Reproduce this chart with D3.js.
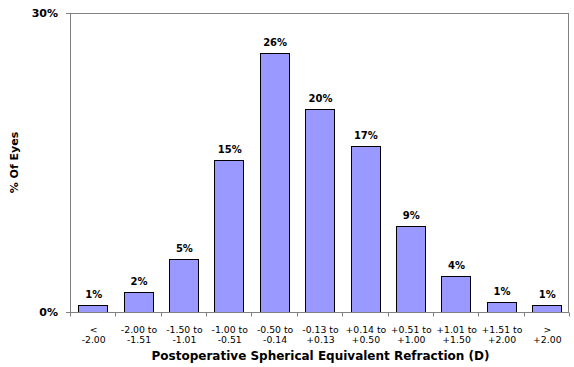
<!DOCTYPE html>
<html><head><meta charset="utf-8">
<script src="https://cdn.jsdelivr.net/npm/d3@7"></script>
<style>body{margin:0;background:#fff}svg{display:block}</style>
</head><body><svg id="c" width="574" height="367"></svg>
<script>
const categories = [["<","-2.00"],["-2.00 to","-1.51"],["-1.50 to","-1.01"],["-1.00 to","-0.51"],["-0.50 to","-0.14"],["-0.13 to","+0.13"],["+0.14 to","+0.50"],["+0.51 to","+1.00"],["+1.01 to","+1.50"],["+1.51 to","+2.00"],[">","+2.00"]];
const values = [0.7, 2.0, 5.3, 15.3, 26.0, 20.4, 16.7, 8.6, 3.6, 1.0, 0.7];
const valueLabels = ["1%","2%","5%","15%","26%","20%","17%","9%","4%","1%","1%"];
const yTicks = [0, 30];

const svg = d3.select("#c");
const m = {l:70, r:5, t:13, b:55};
const W = 574, H = 367;
const x = d3.scaleBand().domain(d3.range(categories.length)).range([m.l, W - m.r]).paddingInner(0.37).paddingOuter(0.185);
const xb = d3.scaleLinear().domain([0, categories.length]).range([m.l, W - m.r]);
const y = d3.scaleLinear().domain([0, 30]).range([H - m.b, m.t]);
const font = "Verdana, 'DejaVu Sans', sans-serif";

// plot border
svg.append("rect").attr("x", m.l + 0.5).attr("y", m.t + 0.5)
  .attr("width", W - m.r - m.l - 1).attr("height", y(0) - m.t)
  .attr("fill", "none").attr("stroke", "#808080");

// bars
svg.selectAll("rect.bar").data(values).join("rect").attr("class","bar")
  .attr("x", (d,i) => Math.round(x(i)) + 0.5)
  .attr("y", d => Math.round(y(d)) + 0.5)
  .attr("width", Math.round(x.bandwidth()))
  .attr("height", d => y(0) - Math.round(y(d)))
  .attr("fill", "#9999FF").attr("stroke", "#000").attr("stroke-width", 1);

// value labels
svg.selectAll("text.vl").data(values).join("text").attr("class","vl")
  .attr("x", (d,i) => x(i) + x.bandwidth()/2 + 1)
  .attr("y", d => y(d) - 7)
  .attr("text-anchor","middle").attr("font-family", font).attr("font-size", "10px").attr("font-weight","bold")
  .text((d,i) => valueLabels[i]);

// x axis
const xAxisG = svg.append("g").attr("transform", `translate(0,${y(0) + 0.5})`);
xAxisG.append("line").attr("x1", m.l).attr("x2", W - m.r).attr("stroke", "#808080");
xAxisG.selectAll("line.t").data(d3.range(categories.length + 1)).join("line").attr("class","t")
  .attr("x1", d => Math.round(xb(d)) + 0.5).attr("x2", d => Math.round(xb(d)) + 0.5)
  .attr("y1", 0).attr("y2", 4).attr("stroke", "#808080");
const tl = xAxisG.selectAll("text").data(categories).join("text")
  .attr("text-anchor","middle").attr("font-family", font).attr("font-size","9.3px").attr("fill","#000");
tl.append("tspan").attr("x", (d,i) => x(i) + x.bandwidth()/2 + 1).attr("y", 20).text(d => d[0]);
tl.append("tspan").attr("x", (d,i) => x(i) + x.bandwidth()/2 + 1).attr("y", 30).text(d => d[1]);

// y axis
svg.append("line").attr("x1", m.l + 0.5).attr("x2", m.l + 0.5).attr("y1", m.t).attr("y2", y(0)).attr("stroke","#808080");
svg.selectAll("line.yt").data(yTicks).join("line").attr("class","yt")
  .attr("x1", m.l - 4).attr("x2", m.l).attr("y1", d => Math.round(y(d)) + 0.5).attr("y2", d => Math.round(y(d)) + 0.5)
  .attr("stroke", "#808080");
svg.selectAll("text.yl").data(yTicks).join("text").attr("class","yl")
  .attr("x", m.l - 12).attr("y", d => y(d) + 4)
  .attr("text-anchor","end").attr("font-family", font).attr("font-size","11px").attr("font-weight","bold")
  .text(d => d + "%");

// titles
svg.append("text").attr("x", (m.l + W - m.r)/2 + 1).attr("y", 360)
  .attr("text-anchor","middle").attr("font-family", font).attr("font-size","12px").attr("font-weight","bold")
  .text("Postoperative Spherical Equivalent Refraction (D)");
svg.append("text").attr("transform", `translate(18,${(m.t + y(0))/2}) rotate(-90)`)
  .attr("text-anchor","middle").attr("font-family", font).attr("font-size","11px").attr("font-weight","bold")
  .text("% Of Eyes");
</script></body></html>
